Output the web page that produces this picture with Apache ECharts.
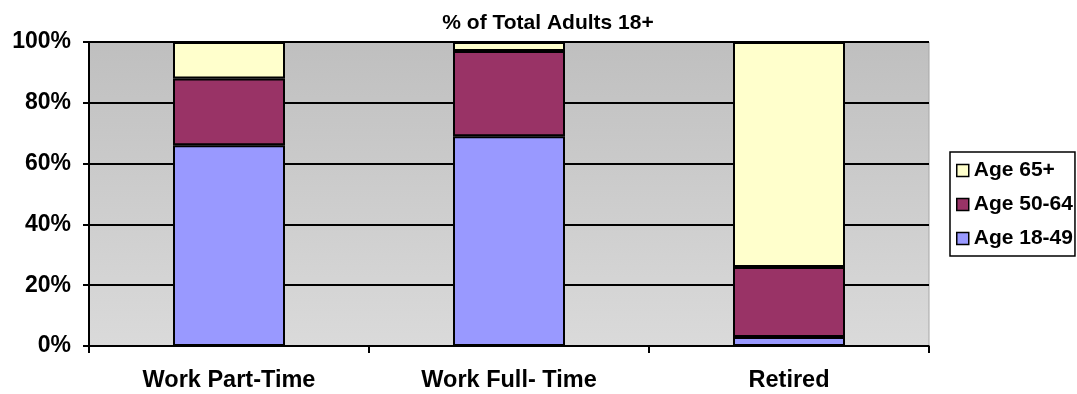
<!DOCTYPE html>
<html>
<head>
<meta charset="utf-8">
<script src="https://cdn.jsdelivr.net/npm/echarts@6/dist/echarts.min.js"></script>
<style>
  html, body { margin: 0; padding: 0; background: #ffffff; }
  #chart { width: 1077px; height: 394px; }
</style>
</head>
<body>
<div id="chart"></div>
<script>
// Work status categories
const categories = ['Work Part-Time', 'Work Full- Time', 'Retired'];
// Share of adults in each age group (percent)
const age18to49 = [66, 69, 3];
const age50to64 = [22, 28, 23];
const age65plus = [12, 3, 74];
// Y-axis ticks (percent)
const yTicks = [0, 20, 40, 60, 80, 100];

const FONT = 'Liberation Sans, Arial, sans-serif';
const barBorder = { borderColor: '#000000', borderWidth: 2 };

const chart = echarts.init(document.getElementById('chart'), null, { renderer: 'canvas' });

chart.setOption({
  animation: false,
  title: {
    text: '% of Total Adults 18+',
    left: 543, top: 8, textAlign: 'center',
    textStyle: { fontFamily: FONT, fontWeight: 'bold', fontSize: 21, color: '#000' }
  },
  grid: {
    left: 89, right: 148, top: 42, bottom: 48,
    show: true,
    borderColor: '#a6a6a6', borderWidth: 1,
    backgroundColor: {
      type: 'linear', x: 0, y: 0, x2: 0, y2: 1,
      colorStops: [{ offset: 0, color: '#bfbfbf' }, { offset: 1, color: '#dadada' }]
    }
  },
  legend: {
    orient: 'vertical',
    left: 950, top: 152,
    padding: [8, 2, 7, 6],
    itemGap: 13,
    itemWidth: 12, itemHeight: 12,
    icon: 'rect',
    borderColor: '#000', borderWidth: 1.5,
    itemStyle: { borderColor: '#000', borderWidth: 1.5 },
    textStyle: { fontFamily: FONT, fontWeight: 'bold', fontSize: 21, color: '#000' },
    data: ['Age 65+', 'Age 50-64', 'Age 18-49']
  },
  xAxis: {
    type: 'category',
    data: categories,
    boundaryGap: true,
    axisLine: { lineStyle: { color: '#000', width: 1.5 } },
    axisTick: { show: true, length: 7, alignWithLabel: false, lineStyle: { color: '#000', width: 2 } },
    axisLabel: { margin: 23, fontFamily: FONT, fontWeight: 'bold', fontSize: 23.5, color: '#000' },
    splitLine: { show: false }
  },
  yAxis: {
    type: 'value',
    min: yTicks[0], max: yTicks[yTicks.length - 1], interval: 20,
    axisLine: { show: true, lineStyle: { color: '#000', width: 2 } },
    axisTick: { show: true, length: 6, lineStyle: { color: '#000', width: 2 } },
    axisLabel: {
      margin: 18,
      formatter: v => v + '%',
      fontFamily: FONT, fontWeight: 'bold', fontSize: 23, color: '#000'
    },
    splitLine: { show: true, lineStyle: { color: '#000', width: 2 } }
  },
  series: [
    {
      name: 'Age 18-49', type: 'bar', stack: 'total', barWidth: '40%',
      itemStyle: Object.assign({ color: '#9999ff' }, barBorder),
      data: age18to49
    },
    {
      name: 'Age 50-64', type: 'bar', stack: 'total', barWidth: '40%',
      itemStyle: Object.assign({ color: '#993366' }, barBorder),
      data: age50to64
    },
    {
      name: 'Age 65+', type: 'bar', stack: 'total', barWidth: '40%',
      itemStyle: Object.assign({ color: '#ffffcc' }, barBorder),
      data: age65plus
    }
  ]
});
</script>
</body>
</html>
